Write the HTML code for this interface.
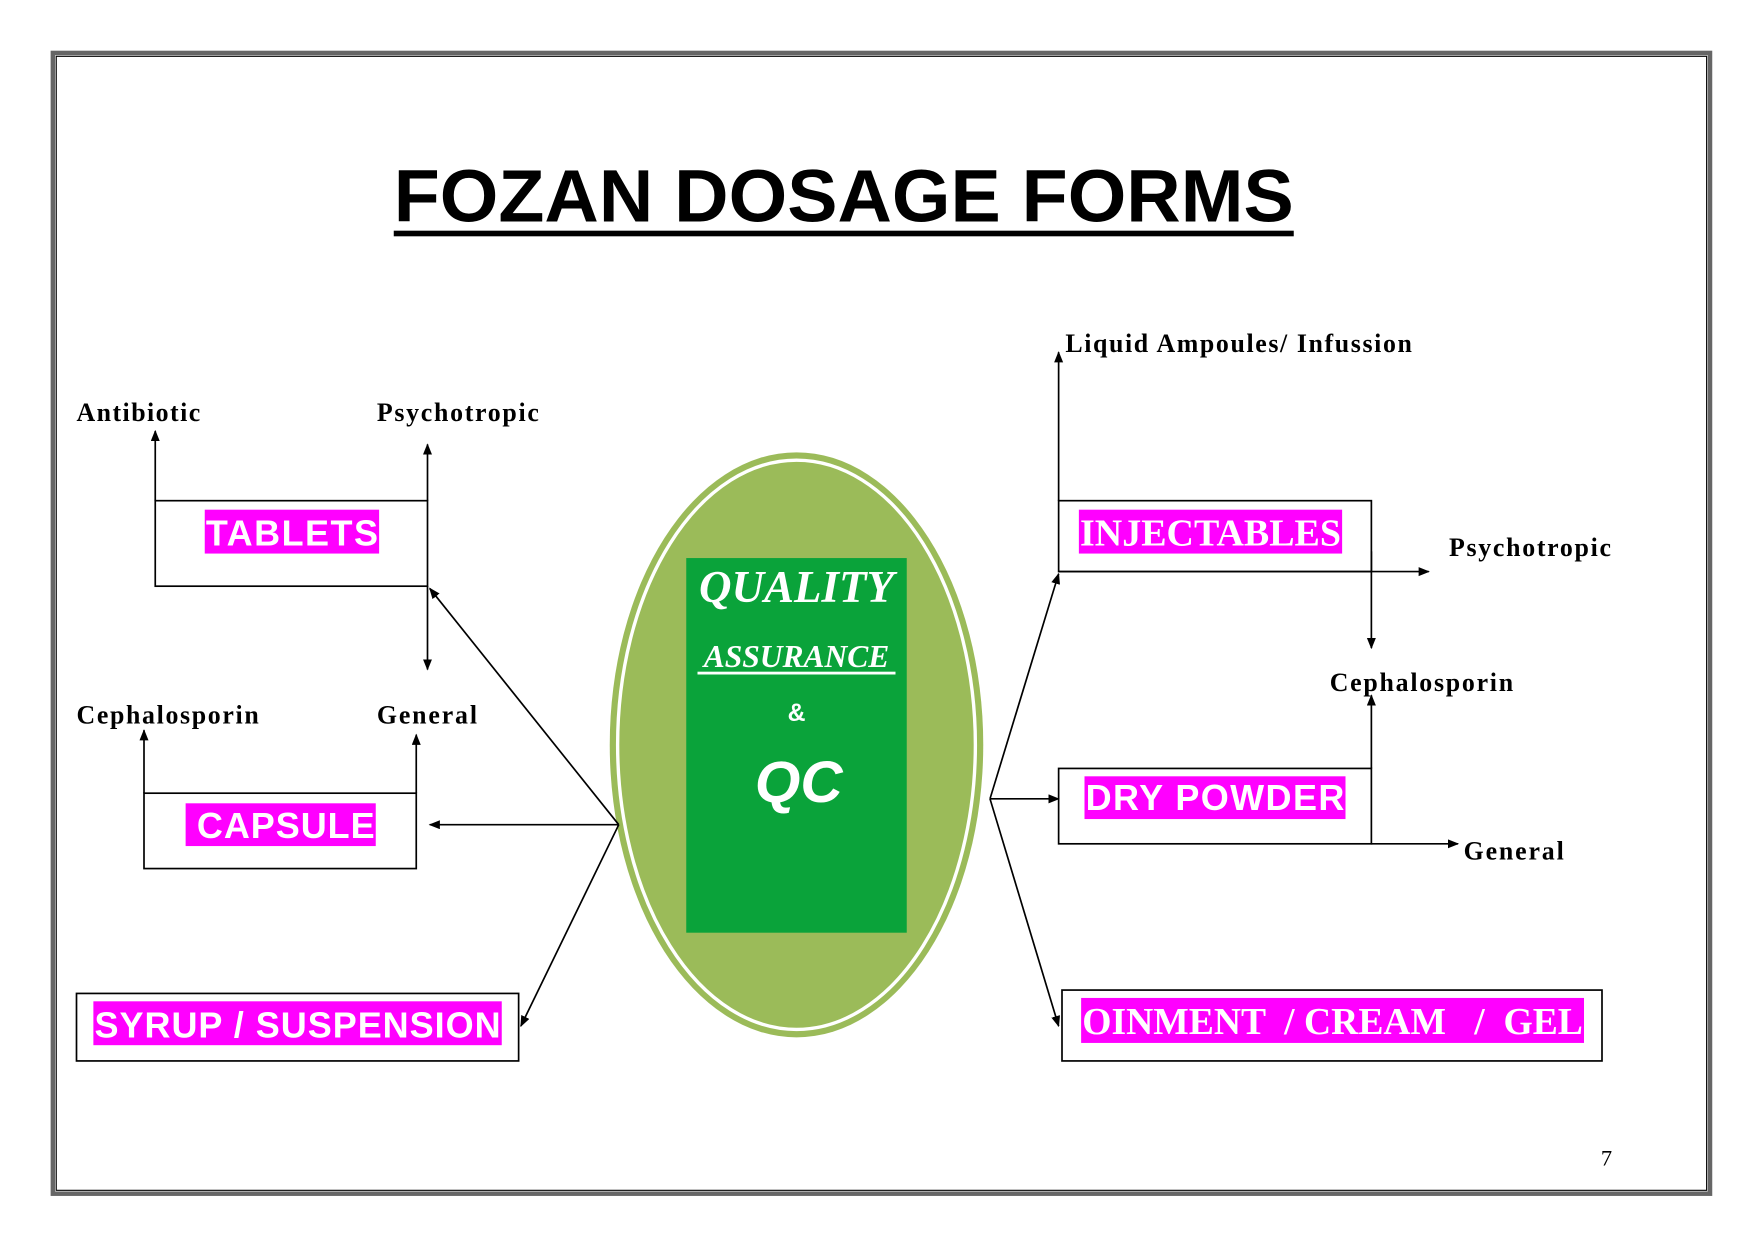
<!DOCTYPE html>
<html><head><style>html,body{margin:0;padding:0;background:#fff}svg{display:block}</style></head>
<body>
<svg width="1755" height="1241" viewBox="0 0 1560 1103" xmlns="http://www.w3.org/2000/svg">
<defs><marker id="a" markerWidth="10" markerHeight="10" refX="9" refY="4" orient="auto" markerUnits="userSpaceOnUse"><path d="M0,0 L10,4 L0,8 z" fill="#000"/></marker></defs>
<rect x="0" y="0" width="1560" height="1103" fill="#fff"/>
<rect x="47" y="47" width="1473" height="1014" fill="none" stroke="#666" stroke-width="4"/>
<rect x="50" y="50" width="1467" height="1008" fill="none" stroke="#000" stroke-width="1"/>
<text x="350" y="197" textLength="800" lengthAdjust="spacingAndGlyphs" font-family="Liberation Sans" font-weight="bold" font-size="66">FOZAN DOSAGE FORMS</text>
<rect x="350" y="205" width="800" height="5" fill="#000"/>
<ellipse cx="708" cy="662" rx="166" ry="260" fill="#9bbb59"/>
<ellipse cx="708" cy="662" rx="159" ry="253" fill="none" stroke="#fff" stroke-width="3"/>
<rect x="610" y="496" width="196" height="333" fill="#0aa33a"/>
<g fill="#fff" font-family="Liberation Serif" font-weight="bold" font-style="italic" text-anchor="middle">
<text x="708" y="535" font-size="40">QUALITY</text>
<text x="708" y="593" font-size="28">ASSURANCE</text>
<rect x="620" y="597" width="176" height="2.5"/>
<text x="708" y="641" font-size="22" font-family="Liberation Sans" font-style="normal">&amp;</text>
<text x="710" y="713" font-size="52" font-family="Liberation Sans">QC</text>
</g>
<g stroke="#000" stroke-width="1.5" fill="none">
<rect x="138" y="445" width="242" height="76"/>
<rect x="128" y="705" width="242" height="67"/>
<rect x="68" y="883" width="393" height="60"/>
<rect x="941" y="445" width="278" height="63"/>
<rect x="941" y="683" width="278" height="67"/>
<rect x="944" y="880" width="480" height="63"/>
<line x1="138" y1="445" x2="138" y2="383" marker-end="url(#a)"/>
<line x1="380" y1="445" x2="380" y2="395" marker-end="url(#a)"/>
<line x1="380" y1="521" x2="380" y2="595" marker-end="url(#a)"/>
<line x1="550" y1="733" x2="382" y2="523" marker-end="url(#a)"/>
<line x1="128" y1="705" x2="128" y2="649" marker-end="url(#a)"/>
<line x1="370" y1="705" x2="370" y2="653" marker-end="url(#a)"/>
<line x1="550" y1="733" x2="382" y2="733" marker-end="url(#a)"/>
<line x1="550" y1="733" x2="463" y2="912" marker-end="url(#a)"/>
<line x1="880" y1="710" x2="941" y2="510" marker-end="url(#a)"/>
<line x1="880" y1="710" x2="941" y2="710" marker-end="url(#a)"/>
<line x1="880" y1="710" x2="941" y2="912" marker-end="url(#a)"/>
<line x1="941" y1="445" x2="941" y2="313" marker-end="url(#a)"/>
<line x1="941" y1="508" x2="1270" y2="508" marker-end="url(#a)"/>
<line x1="1219" y1="490" x2="1219" y2="576" marker-end="url(#a)"/>
<line x1="1219" y1="683" x2="1219" y2="618" marker-end="url(#a)"/>
<line x1="1219" y1="750" x2="1296" y2="750" marker-end="url(#a)"/>
</g>
<g fill="#ff00ff">
<rect x="182" y="453" width="155" height="39"/>
<rect x="165" y="714" width="169" height="38"/>
<rect x="83" y="890" width="363" height="39"/>
<rect x="959" y="453" width="234" height="39"/>
<rect x="964" y="690" width="232" height="38"/>
<rect x="961" y="887" width="447" height="40"/>
</g>
<g fill="#fff" font-family="Liberation Sans" font-weight="bold" font-size="32" lengthAdjust="spacingAndGlyphs">
<text x="183" y="485" textLength="153">TABLETS</text>
<text x="175" y="745" textLength="158">CAPSULE</text>
<text x="84" y="922" textLength="361">SYRUP / SUSPENSION</text>
<text x="965" y="720" textLength="230">DRY POWDER</text>
</g>
<g fill="#fff" font-family="Liberation Serif" font-weight="bold" font-size="34">
<text x="960" y="485" textLength="232" lengthAdjust="spacingAndGlyphs">INJECTABLES</text>
<text x="962" y="919" textLength="445" lengthAdjust="spacingAndGlyphs" xml:space="preserve">OINMENT  / CREAM   /  GEL</text>
</g>
<g fill="#000" font-family="Liberation Serif" font-weight="bold" font-size="23" lengthAdjust="spacingAndGlyphs">
<text x="68" y="374" textLength="110">Antibiotic</text>
<text x="335" y="374" textLength="144">Psychotropic</text>
<text x="68" y="643" textLength="162">Cephalosporin</text>
<text x="335" y="643" textLength="89">General</text>
<text x="947" y="313" textLength="308">Liquid Ampoules/ Infussion</text>
<text x="1288" y="494" textLength="144">Psychotropic</text>
<text x="1182" y="614" textLength="163">Cephalosporin</text>
<text x="1301" y="764" textLength="89">General</text>
</g>
<text x="1423" y="1036" font-family="Liberation Serif" font-size="20">7</text>
</svg>
</body></html>
